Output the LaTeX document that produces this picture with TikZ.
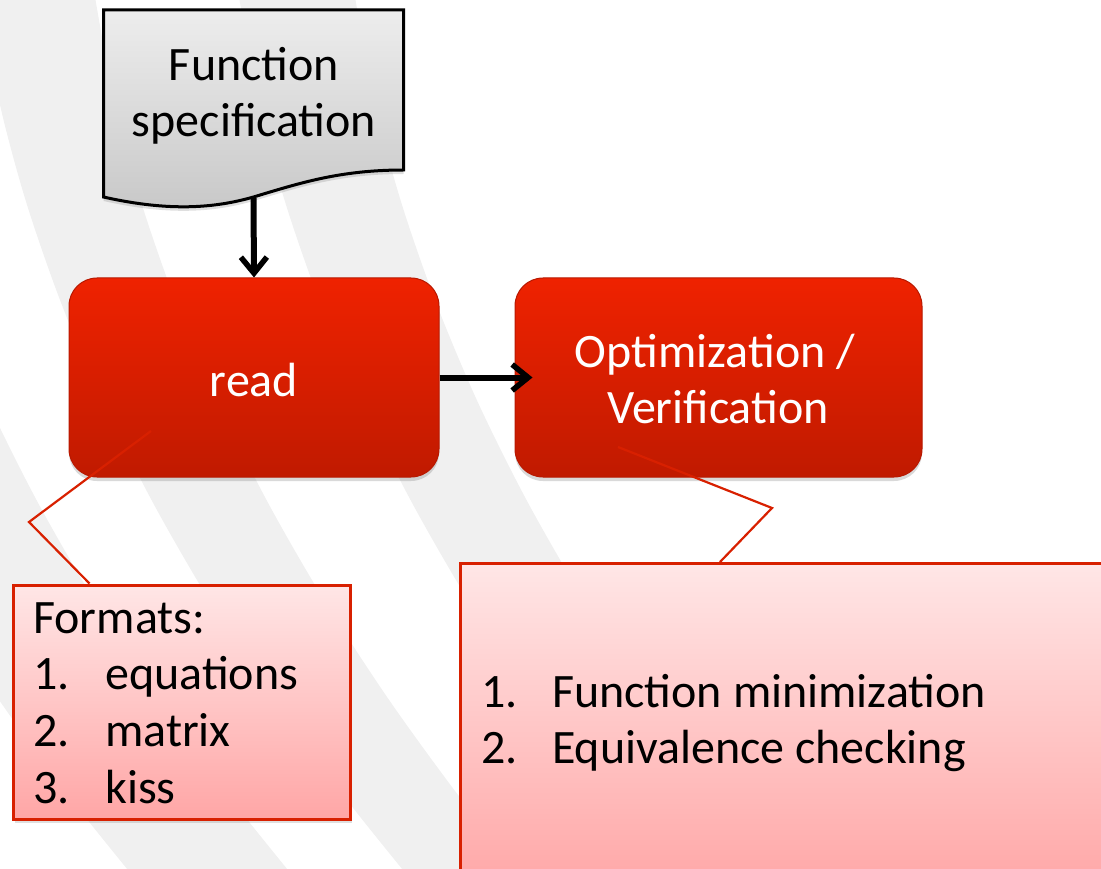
\documentclass[tikz,border=0pt]{standalone}
\usepackage{fontspec}
\setmainfont{Carlito}
\usetikzlibrary{arrows.meta,shadows}
\definecolor{bggray}{HTML}{F0F0F0}
\definecolor{docgraya}{HTML}{EDEDED}
\definecolor{docgrayb}{HTML}{C8C8C8}
\definecolor{redtop}{HTML}{EF2200}
\definecolor{redbot}{HTML}{C01A00}
\definecolor{redline}{HTML}{B81800}
\definecolor{calltop}{HTML}{FFE6E6}
\definecolor{callbot}{HTML}{FFA6A6}
\definecolor{callline}{HTML}{D82000}
\begin{document}
\begin{tikzpicture}[x=1pt,y=-1pt,
  txt/.style={font=\fontsize{48}{57}\selectfont, inner sep=0pt, anchor=base},
  redbox/.style={rounded corners=28pt, top color=redtop, bottom color=redbot, draw=redline, line width=1pt,
    drop shadow={shadow xshift=0pt, shadow yshift=-4pt, opacity=0.3}, inner sep=0pt},
  callbox/.style={top color=calltop, bottom color=callbot, draw=callline, line width=3pt,
    drop shadow={shadow xshift=2pt, shadow yshift=-4pt, opacity=0.25}, inner sep=0pt},
  docshape/.style={top color=docgraya, bottom color=docgrayb, draw=black, line width=3pt,
    drop shadow={shadow xshift=0pt, shadow yshift=-4pt, opacity=0.25}},
  arrowtip/.tip={Straight Barb[length=16pt,width=26pt,line width=5.5pt]},
  connector/.style={draw=black, line width=6pt, -arrowtip},
  pointer/.style={draw=callline, line width=2.2pt}
]
\useasboundingbox (0,0) rectangle (1101,869);
% background stripes
\begin{scope}
\clip (0,0) rectangle (1101,869);
\foreach \a/\b in {-295/-135,-20/95,239/355}{
  \fill[bggray] plot[smooth] coordinates {({\a-2.9},-20) ({\a+18.9},100) ({\a+45.5},200) ({\a+80},300) ({\a+121.8},400) ({\a+171.5},500) ({\a+229},600) ({\a+294.1},700) ({\a+366.9},800) ({\a+447.4},900)}
   -- plot[smooth] coordinates {({\b+447.4},900) ({\b+366.9},800) ({\b+294.1},700) ({\b+229},600) ({\b+171.5},500) ({\b+121.8},400) ({\b+80},300) ({\b+45.5},200) ({\b+18.9},100) ({\b-2.9},-20)} -- cycle;
}
\end{scope}
% document shape
\path[docshape] (103.5,10) -- (403.5,10) -- (403.5,170) .. controls (340,170) and (300,183) .. (253.5,197) .. controls (215,208) and (170,212) .. (103.5,197) -- cycle;
\coordinate (docbot) at (253.5,198);
\node[txt] (doc1) at (254,81) {Function};
\node[txt] (doc2) at (254,137) {specification};
% process boxes
\node[redbox, minimum width=370pt, minimum height=199pt] (read) at (254,377.5) {};
\node[redbox, minimum width=407pt, minimum height=199pt] (opt) at (718.5,377.5) {};
\node[txt, white] (readtxt) at (254,396) {read};
\node[txt, white] (opt1) at (715,367) {Optimization /};
\node[txt, white] (opt2) at (718,423) {Verification};
% arrows
\draw[connector] (docbot) -- (read.north);
\draw[connector, shorten >=-18pt] (read.east) -- (opt.west);
% callouts
\node[callbox, minimum width=337pt, minimum height=234pt] (call1) at (181.5,702) {};
\node[callbox, minimum width=660pt, minimum height=330pt, anchor=north west] (call2) at (459,562) {};
\coordinate (k1) at (29,522);
\coordinate (t1) at (151,431);
\coordinate (k2) at (772,508);
\coordinate (t2) at (618,447);
\draw[pointer] (call1.north west) ++(78,0) -- (k1) -- (t1);
\draw[pointer] (call2.north west) ++(261,0) -- (k2) -- (t2);
% callout texts
\node[txt, anchor=base west] (fmt) at (33,633) {Formats:};
\node[txt, anchor=base west] (n1) at (33,689.7) {1.};
\node[txt, anchor=base west] (i1) at (105,689.7) {equations};
\node[txt, anchor=base west] (n2) at (33,746.4) {2.};
\node[txt, anchor=base west] (i2) at (105,746.4) {matrix};
\node[txt, anchor=base west] (n3) at (33,803) {3.};
\node[txt, anchor=base west] (i3) at (105,803) {kiss};
\node[txt, anchor=base west] (m1) at (481,707) {1.};
\node[txt, anchor=base west] (j1) at (552,707) {Function minimization};
\node[txt, anchor=base west] (m2) at (481,763) {2.};
\node[txt, anchor=base west] (j2) at (552,763) {Equivalence checking};
\end{tikzpicture}
\end{document}
